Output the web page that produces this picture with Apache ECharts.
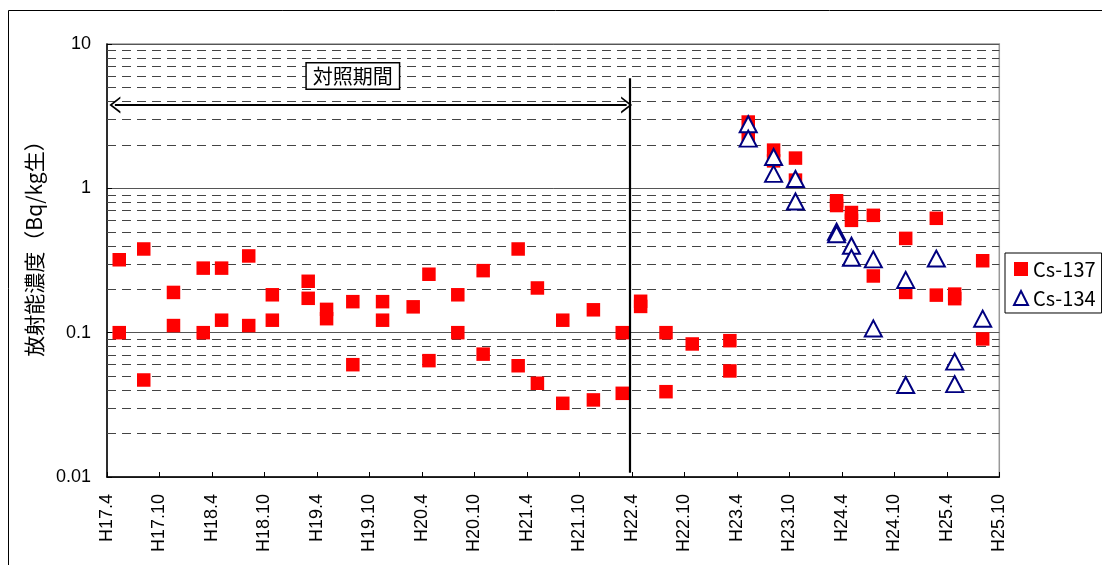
<!DOCTYPE html>
<html><head><meta charset="utf-8">
<script src="https://cdn.jsdelivr.net/npm/echarts@6/dist/echarts.min.js"></script>
<style>html,body{margin:0;padding:0;background:#fff}#c{width:1102px;height:565px}</style>
</head><body><div id="c"></div>
<script>
// x = months since H17.4
const tickLabels = ['H17.4','H17.10','H18.4','H18.10','H19.4','H19.10','H20.4','H20.10','H21.4','H21.10','H22.4','H22.10','H23.4','H23.10','H24.4','H24.10','H25.4','H25.10'];
const cs137Months = [1.4,1.4,4.2,4.2,7.6,7.6,11.0,11.0,13.1,13.1,16.2,16.2,18.9,18.9,23.0,23.0,25.1,25.1,28.1,28.1,31.5,31.5,35.0,36.8,36.8,40.1,40.1,43.0,43.0,47.0,47.0,49.2,49.2,52.1,52.1,55.6,55.6,58.9,58.9,61.0,61.0,63.9,63.9,66.9,71.2,71.2,73.3,73.3,76.2,76.2,78.7,78.7,83.4,83.4,85.1,85.1,87.6,87.6,91.3,91.3,94.8,94.8,96.9,96.9,100.1,100.1];
const cs137Values = [0.32,0.10,0.38,0.047,0.19,0.112,0.28,0.10,0.28,0.122,0.34,0.112,0.183,0.122,0.227,0.173,0.145,0.125,0.164,0.060,0.164,0.122,0.151,0.254,0.064,0.183,0.10,0.269,0.071,0.38,0.059,0.204,0.0446,0.122,0.0324,0.144,0.0342,0.10,0.038,0.165,0.152,0.10,0.039,0.0835,0.088,0.0543,2.88,2.34,1.84,1.55,1.62,1.14,0.82,0.76,0.68,0.60,0.65,0.247,0.45,0.19,0.62,0.182,0.185,0.172,0.315,0.0905];
const cs134Months = [73.3,73.3,76.2,76.2,78.7,78.7,83.4,83.4,85.1,85.1,87.6,87.6,91.3,91.3,94.8,96.9,96.9,100.1];
const cs134Values = [2.78,2.21,1.65,1.26,1.16,0.81,0.50,0.48,0.40,0.33,0.322,0.107,0.232,0.0434,0.326,0.063,0.044,0.125];
const minorMultipliers = [2,3,4,5,6,7,8,9];
const decades = [0.01,0.1,1];
const referenceStart = 0.9, referenceEnd = 59.4, arrowLevel = 3.78;
const dividerMonth = 59.7, dividerTop = 5.8, dividerBottom = 0.0107;

const minorLines = [];
decades.forEach(d => minorMultipliers.forEach(m => minorLines.push({yAxis: +(d*m).toPrecision(3)})));

const chart = echarts.init(document.getElementById('c'));
const chevron = 'path://M0,12 L6,0 L12,12 L10.5,12 L6,3 L1.5,12 Z';
chart.setOption({
  animation: false,
  grid: {left: 107, right: 102.7, top: 44, bottom: 88, show: true, borderColor: '#999', borderWidth: 1.5},
  legend: {
    left: 1005, top: 253, orient: 'vertical', padding: [6, 6, 5, 8], itemGap: 9,
    itemWidth: 14, itemHeight: 14, borderColor: '#000', borderWidth: 1, backgroundColor: '#fff',
    textStyle: {fontSize: 20, fontFamily: 'Noto Sans CJK JP', color: '#000'},
    data: ['Cs-137', 'Cs-134']
  },
  xAxis: {
    type: 'value', min: 0, max: 102, interval: 6,
    axisLine: {lineStyle: {color: '#000', width: 1.5}},
    axisTick: {inside: true, length: 5, lineStyle: {color: '#000'}},
    splitLine: {show: false},
    axisLabel: {rotate: 90, margin: 17, fontSize: 18, fontFamily: 'Liberation Sans', color: '#000',
      formatter: v => tickLabels[Math.round(v / 6)]}
  },
  yAxis: {
    type: 'log', logBase: 10, min: 0.01, max: 10,
    name: '放射能濃度（Bq/kg生）', nameLocation: 'middle', nameGap: 62,
    nameTextStyle: {fontSize: 21, fontFamily: 'Noto Sans CJK JP', color: '#000', padding: [0, 0, 0, 34]},
    axisLine: {show: true, lineStyle: {color: '#000', width: 1.5}},
    axisTick: {inside: true, length: 5, lineStyle: {color: '#000'}},
    splitLine: {show: true, lineStyle: {color: '#555', width: 1}},
    axisLabel: {fontSize: 18, fontFamily: 'Liberation Sans', color: '#000', margin: 16,
      formatter: v => String(v)}
  },
  graphic: [{type: 'rect', shape: {x: 8.5, y: 10.5, width: 1200, height: 700}, style: {fill: 'none', stroke: '#000', lineWidth: 1}, silent: true}],
  series: [
    {
      name: 'Cs-137', type: 'scatter', symbol: 'rect', symbolSize: 13.5, z: 3,
      itemStyle: {color: '#ff0000', opacity: 1},
      data: cs137Months.map((m, i) => [m, cs137Values[i]]),
      markLine: {
        silent: true, symbol: 'none', label: {show: false}, z: 1,
        lineStyle: {type: [9, 6], color: '#444', width: 1},
        data: minorLines
      }
    },
    {
      name: 'Cs-134', type: 'scatter', symbol: 'triangle', symbolSize: [17, 16], z: 4,
      itemStyle: {color: '#fff', borderColor: '#000080', borderWidth: 2, opacity: 1},
      data: cs134Months.map((m, i) => [m, cs134Values[i]])
    },
    {
      name: 'annot', type: 'scatter', data: [], z: 5,
      markLine: {
        silent: true, label: {show: false}, animation: false,
        data: [
          [{coord: [referenceStart, arrowLevel], symbol: chevron, symbolSize: [17, 11]},
           {coord: [referenceEnd, arrowLevel], symbol: chevron, symbolSize: [17, 11]}],
          [{coord: [dividerMonth, dividerTop], symbol: 'none'}, {coord: [dividerMonth, dividerBottom], symbol: 'none'}]
        ],
        lineStyle: {type: 'solid', color: '#000', width: 2.2}
      },
      markPoint: {
        silent: true, symbol: 'rect', symbolSize: 0,
        data: [{coord: [28.1, 6.0], value: '対照期間'}],
        label: {show: true, formatter: '対照期間', position: 'inside', color: '#000',
          fontSize: 20, fontFamily: 'Noto Sans CJK JP', backgroundColor: '#fff',
          borderColor: '#000', borderWidth: 1.5, padding: [3, 6, 2, 6]}
      }
    }
  ]
});
</script></body></html>
